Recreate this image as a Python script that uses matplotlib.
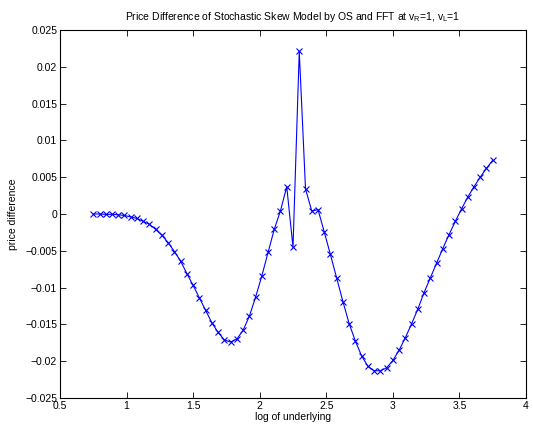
import numpy as np
import matplotlib
matplotlib.use("Agg")
import matplotlib.pyplot as plt
from matplotlib.ticker import FuncFormatter

plt.rcParams['font.family'] = ['Liberation Sans', 'DejaVu Sans']
plt.rcParams['mathtext.fontset'] = 'custom'
plt.rcParams['mathtext.rm'] = 'Liberation Sans'
plt.rcParams['mathtext.it'] = 'Liberation Sans'

# log of underlying (grid of the computation)
x = [0.750, 0.797, 0.844, 0.891, 0.938, 0.984, 1.031, 1.078, 1.125, 1.172,
     1.219, 1.266, 1.313, 1.359, 1.406, 1.453, 1.500, 1.547, 1.594, 1.641,
     1.688, 1.734, 1.781, 1.828, 1.875, 1.922, 1.969, 2.016, 2.063, 2.109,
     2.156, 2.203, 2.250, 2.297, 2.344, 2.391, 2.438, 2.484, 2.531, 2.578,
     2.625, 2.672, 2.719, 2.766, 2.813, 2.859, 2.906, 2.953, 3.000, 3.047,
     3.094, 3.141, 3.188, 3.234, 3.281, 3.328, 3.375, 3.422, 3.469, 3.516,
     3.563, 3.609, 3.656, 3.703, 3.750]

# price difference OS - FFT
diff = [0.0000, 0.0000, -0.00005, -0.00005, -0.0001, -0.0002, -0.0004, -0.0006,
        -0.0010, -0.0014, -0.0021, -0.0029, -0.0039, -0.0051, -0.0064, -0.0081,
        -0.0097, -0.0114, -0.0131, -0.0148, -0.0161, -0.0171, -0.0174, -0.0170,
        -0.0158, -0.0139, -0.0113, -0.0084, -0.0052, -0.0021, 0.00045, 0.0037,
        -0.0045, 0.0221, 0.0034, 0.0004, 0.0006, -0.0024, -0.0055, -0.0087,
        -0.0119, -0.0149, -0.0173, -0.0193, -0.0207, -0.0213, -0.0213, -0.0209,
        -0.0199, -0.0185, -0.0168, -0.0149, -0.0129, -0.0107, -0.0087, -0.0067,
        -0.0047, -0.0028, -0.0010, 0.0007, 0.0023, 0.0037, 0.0050, 0.0062,
        0.0073]

fig = plt.figure(figsize=(5.33, 4.28), dpi=100)
ax = fig.add_axes([60/533, 30/428, 466/533, 368/428])

ax.plot(x, diff, '-x', color='b', linewidth=0.8, markersize=4, markeredgewidth=0.8)

ax.set_xlim(0.5, 4)
ax.set_ylim(-0.025, 0.025)
ax.set_xticks([0.5, 1, 1.5, 2, 2.5, 3, 3.5, 4])
ax.set_yticks(np.arange(-0.025, 0.0251, 0.005))
ax.xaxis.set_major_formatter(FuncFormatter(lambda v, p: '%g' % v))
ax.yaxis.set_major_formatter(FuncFormatter(lambda v, p: ('%g' % round(v, 4)).replace('-', '\u2212')))

ax.tick_params(direction='in', top=True, right=True, length=4, width=0.6,
               labelsize=7.5, pad=2)
for s in ax.spines.values():
    s.set_linewidth(0.8)

ax.set_xlabel('log of underlying', fontsize=7.5, labelpad=1)
ax.set_ylabel('price difference', fontsize=7.5, labelpad=5)
ax.set_title('Price Difference of Stochastic Skew Model by OS and FFT at '
             'v$_\\mathregular{R}$=1, v$_\\mathregular{L}$=1', fontsize=7.5, pad=7)

fig.savefig('out.png', dpi=100)
